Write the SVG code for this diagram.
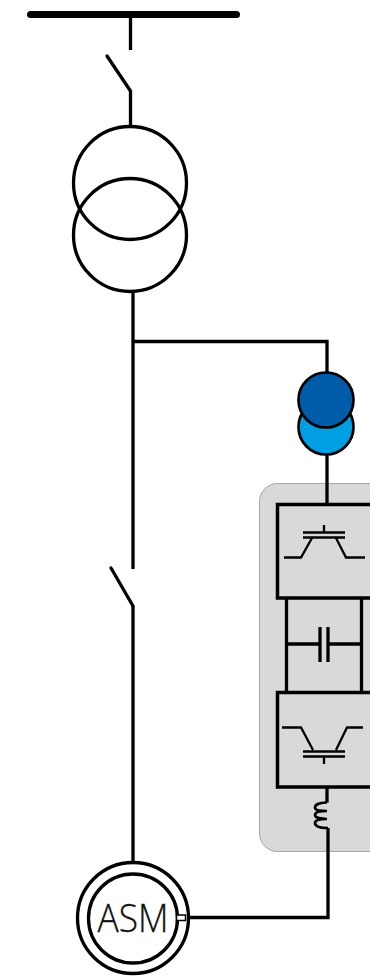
<svg xmlns="http://www.w3.org/2000/svg" width="370" height="976" viewBox="0 0 370 976">
<style>
.l{fill:none;stroke:#000;stroke-width:3.300}
.t{fill:none;stroke:#000;stroke-width:2.300}
.c{fill:none;stroke:#000;stroke-width:3.300}
.b{fill:#d9d9d9;stroke:#000;stroke-width:3.500}
</style>
<rect id="cabinet" x="259.500" y="483.500" width="130" height="368" rx="18" fill="#d9d9d9" stroke="#a6a6a6" stroke-width="1"/>
<g id="connectors">
<path class="l" d="M130.500 15V50M130.500 91V127"/>
<path class="l" d="M107 56L130.500 91" stroke-linecap="round"/>
<path class="l" d="M133 291V569M133 606V864"/>
<path class="l" d="M111 568L133 606" stroke-linecap="round"/>
<path class="l" d="M133 341.500H327V373M327 454V504"/>
<path class="l" d="M327 787V802.500M328 828V917.500H190"/>
<path d="M327 802.500C321 802.500 315 804 315 807.500C315 811 322 811 327 811C321 811 315 812 315 815C315 818 322 819 327 819C321 819 315 820 315 823C315 827 322 828 328 828" fill="none" stroke="#000" stroke-width="2.600"/>
<path class="l" d="M286.500 598V692M361.500 598V692"/>
<path class="l" d="M286 644H320M328 644H363"/>
<path class="l" d="M320 627V662M328 627V662"/>
</g>
<rect id="busbar" x="27" y="11" width="213" height="7" rx="3.500" fill="#000"/>
<g id="transformer">
<circle class="c" cx="130" cy="183" r="56.500"/>
<circle class="c" cx="130" cy="235" r="56.500"/>
</g>
<g id="measure">
<circle cx="326" cy="427" r="27.500" fill="#009fe3" stroke="#000" stroke-width="2.700"/>
<circle cx="326" cy="400" r="27.500" fill="#005ca9" stroke="#000" stroke-width="2.700"/>
</g>
<g id="rectifier">
<path class="b" d="M390 504.500H277.500V598H390"/>
<path class="t" d="M303 532.500H345M303 537.500H345M324 525V532.500M284 557.500H301L312 538M336 538L346 557.500H365"/>
</g>
<g id="inverter">
<path class="b" d="M390 692.500H277.500V787H390"/>
<path class="t" d="M282 727.500H301L313 750M336 750L347 727.500H363M303 751.500H345M303 756.500H345M324 756.500V764"/>
</g>
<g id="motor">
<circle cx="133" cy="918" r="55.500" fill="none" stroke="#000" stroke-width="3.300"/>
<circle cx="133" cy="918.500" r="44.500" fill="none" stroke="#000" stroke-width="3.300"/>
<rect x="176.500" y="915" width="9" height="5.500" fill="#fff" stroke="#000" stroke-width="1.500"/>
<text x="133" y="932" font-family="'Open Sans',sans-serif" font-size="38" font-weight="300" text-anchor="middle" fill="#111" stroke="#111" stroke-width="0.300" textLength="71" lengthAdjust="spacingAndGlyphs">ASM</text>
</g>
</svg>
